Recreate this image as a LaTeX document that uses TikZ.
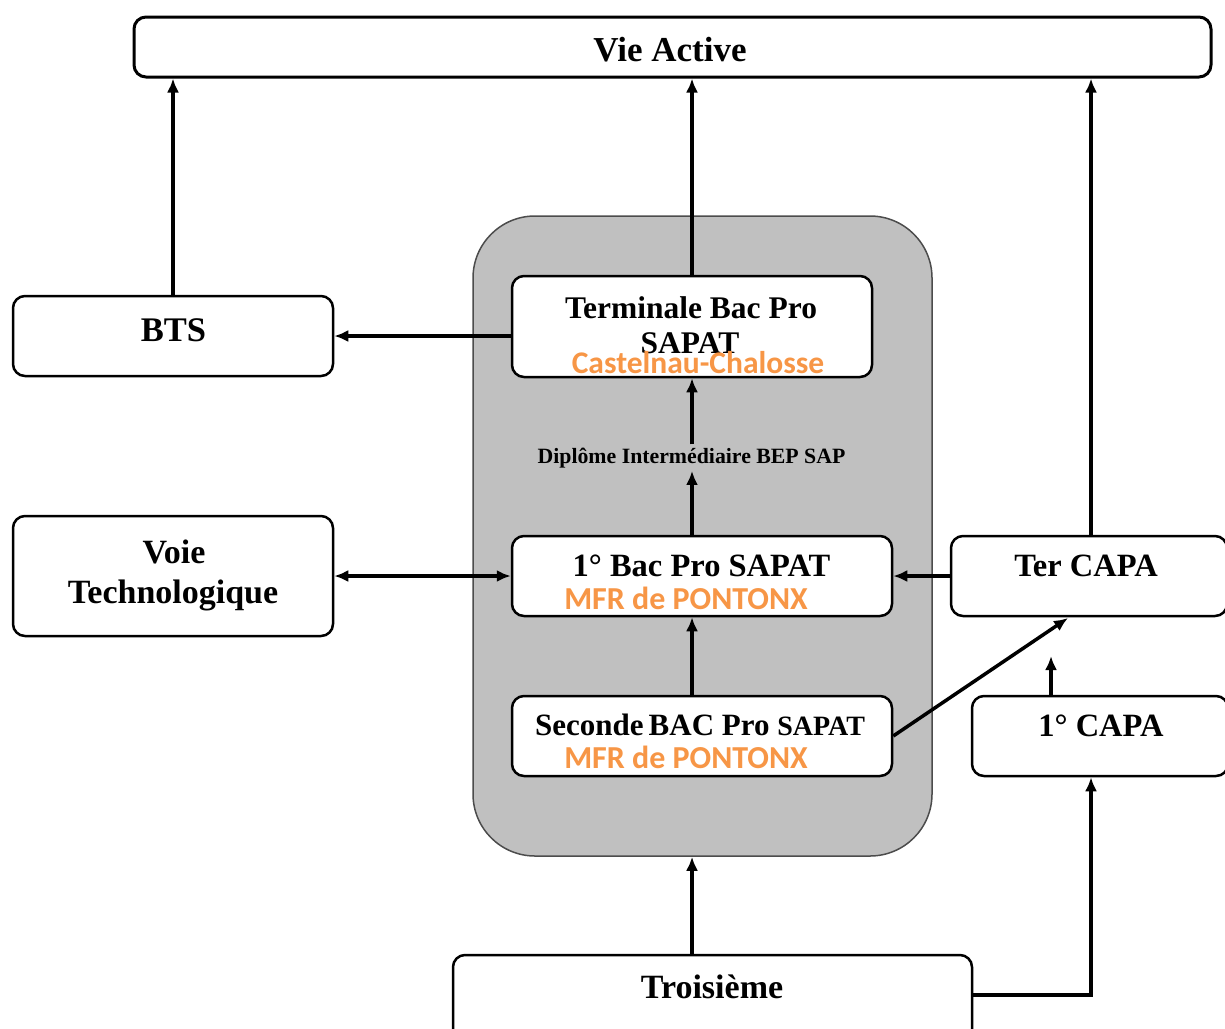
\documentclass[tikz,border=0pt]{standalone}
\usepackage{fontspec}
\setmainfont{Liberation Serif}
\newfontfamily\orfont{Carlito}
\usetikzlibrary{arrows.meta}
\definecolor{orng}{HTML}{F79646}
\definecolor{panelgray}{HTML}{C0C0C0}
\begin{document}
\begin{tikzpicture}[x=1pt,y=-1pt,
  box/.style={draw=black, line width=2.5pt, rounded corners=12pt, fill=white, inner sep=0pt},
  txt/.style={font=\bfseries\fontsize{32}{34}\selectfont, inner sep=0pt, anchor=base},
  otxt/.style={font=\orfont\bfseries\fontsize{31.5}{33}\selectfont, text=orng, inner sep=0pt, anchor=base},
  arr/.style={line width=3.5pt, -{Latex[length=14pt,width=12pt]}},
  dbl/.style={line width=3.5pt, {Latex[length=14pt,width=12pt]}-{Latex[length=14pt,width=12pt]}},
  ln/.style={line width=3.5pt}]
\useasboundingbox (0,0) rectangle (1225,1028);
\clip (0,0) rectangle (1225,1028);
% container
\node[draw=black!70, line width=1.5pt, fill=panelgray, rounded corners=62pt, minimum width=459pt, minimum height=640pt, inner sep=0pt] (panel) at (702.5,536) {};
% boxes
\node[box, line width=3pt, minimum width=1077pt, minimum height=60pt] (va) at (672.5,47) {};
\node[box, minimum width=320pt, minimum height=80pt] (bts) at (173,336) {};
\node[box, minimum width=320pt, minimum height=120pt] (voie) at (173,576) {};
\node[box, minimum width=360pt, minimum height=101pt] (term) at (692,326.5) {};
\node[box, minimum width=380pt, minimum height=80pt] (bac1) at (702,576) {};
\node[box, minimum width=380pt, minimum height=80pt] (sec) at (702,736) {};
\node[box, minimum width=276pt, minimum height=80pt] (tercapa) at (1089,576) {};
\node[box, minimum width=256pt, minimum height=80pt] (capa1) at (1100,736) {};
\node[box, minimum width=519pt, minimum height=90pt] (trois) at (712.5,1000) {};
% texts
\node[txt, font=\bfseries\fontsize{35}{37}\selectfont] (vat) at (670,61) {Vie Active};
\node[txt, font=\bfseries\fontsize{34.5}{36}\selectfont] (btst) at (173.5,341) {BTS};
\node[txt, font=\bfseries\fontsize{34}{36}\selectfont] (voiet1) at (174,563) {Voie};
\node[txt, font=\bfseries\fontsize{34}{36}\selectfont] (voiet2) at (173,603) {Technologique};
\node[txt, font=\bfseries\fontsize{31.5}{33}\selectfont] (termt1) at (691,318) {Terminale Bac Pro};
\node[txt, font=\bfseries\fontsize{31.5}{33}\selectfont] (termt2) at (690,353) {SAPAT};
\node[otxt] (termo) at (698,373) {Castelnau-Chalosse};
\node[txt, font=\bfseries\fontsize{21.8}{23}\selectfont, inner sep=3pt] (dip) at (691.5,463) {Diplôme Intermédiaire BEP SAP};
\node[txt, font=\bfseries\fontsize{32.5}{34}\selectfont] (bac1t) at (701.5,576) {1° Bac Pro SAPAT};
\node[otxt, font=\orfont\bfseries\fontsize{32}{34}\selectfont] (bac1o) at (686,609) {MFR de PONTONX};
\node[txt, font=\bfseries\fontsize{31}{33}\selectfont] (sect) at (700,735) {Seconde\,BAC Pro {\fontsize{28}{30}\selectfont SAPAT}};
\node[otxt, font=\orfont\bfseries\fontsize{32}{34}\selectfont] (seco) at (686,768) {MFR de PONTONX};
\node[txt, font=\bfseries\fontsize{32.5}{34}\selectfont] (tercapat) at (1086,576) {Ter CAPA};
\node[txt, font=\bfseries\fontsize{32.5}{34}\selectfont] (capa1t) at (1101,736) {1° CAPA};
\node[txt, font=\bfseries\fontsize{34}{36}\selectfont] (troist) at (712,998) {Troisième};
% helper coordinates
\coordinate (sdiag) at (1068,618);
\coordinate (capaup) at (1051,656);
% connectors
\draw[arr] (bts.north) -- (bts.north |- va.south);
\draw[arr] (term.north) -- (term.north |- va.south);
\draw[arr] (tercapa.north -| 1091,0) -- (va.south -| 1091,0);
\draw[arr] (bts.east -| term.west) -- (bts.east);
\draw[arr] (dip.north -| term.south) -- (term.south);
\draw[arr] (bac1.north -| term.south) -- (dip.south -| term.south);
\draw[dbl] (voie.east) -- (bac1.west);
\draw[arr] (tercapa.west) -- (bac1.east);
\draw[arr] (sec.north -| term.south) -- (bac1.south -| term.south);
\draw[arr] (sec.east) -- (sdiag);
\draw[arr] (capa1.north -| capaup) -- (capaup);
\draw[arr] (trois.north -| term.south) -- (panel.south -| term.south);
\draw[arr] (trois.east |- 0,995) -- (1091,995) -- (capa1.south -| 1091,0);
\end{tikzpicture}
\end{document}
